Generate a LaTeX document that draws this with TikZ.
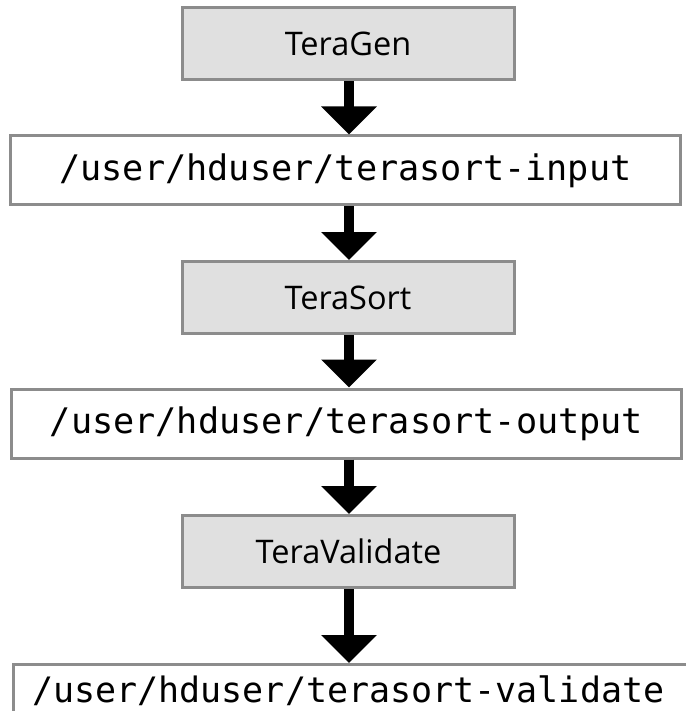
\documentclass[tikz,border=0pt]{standalone}
\usepackage{fontspec}
\setsansfont{Open Sans}
\setmonofont{DejaVu Sans Mono}
\usetikzlibrary{arrows.meta}
\definecolor{boxline}{HTML}{8C8C8C}
\definecolor{boxfill}{HTML}{E0E0E0}
\begin{document}
\begin{tikzpicture}[x=1pt,y=-1pt,
  jobbox/.style={draw=boxline, line width=3pt, fill=boxfill,
    minimum width=332pt, minimum height=72pt, inner sep=0pt,
    font=\sffamily\fontsize{32.5}{38}\selectfont},
  dirbox/.style={draw=boxline, line width=3pt, fill=white,
    minimum width=670pt, minimum height=69pt, inner sep=0pt,
    font=\ttfamily\fontsize{35.2}{42}\selectfont},
  flow/.style={line width=10.5pt, -{Triangle[width=54pt,length=28pt]}}]
\useasboundingbox (0,0) rectangle (685,711);
\fill[white] (0,0) rectangle (685,711);

\node[jobbox] (gen)  at (348,44)      {TeraGen};
\node[dirbox] (in)   at (345.5,170.5) {/user/hduser/terasort-input};
\node[jobbox] (sort) at (348,297.5)   {TeraSort};
\node[dirbox] (out)  at (346.5,423.5) {/user/hduser/terasort-output};
\node[jobbox] (val)  at (348.5,551.5) {TeraValidate};
% last folder box runs past the lower and right edges
\node[dirbox, minimum width=730pt, minimum height=100pt,
      anchor=north west] (vdir) at (12,663) {};
\node[font=\ttfamily\fontsize{35}{42}\selectfont, anchor=west, inner sep=0pt]
  (vtext) at (32,691) {/user/hduser/terasort-validate};

\coordinate (ax) at (349,0);
\draw[flow] (gen.south -| ax)  -- (in.north -| ax);
\draw[flow] (in.south -| ax)   -- (sort.north -| ax);
\draw[flow] (sort.south -| ax) -- (out.north -| ax);
\draw[flow] (out.south -| ax)  -- (val.north -| ax);
\draw[flow] (val.south -| ax)  -- (vdir.north -| ax);
\end{tikzpicture}
\end{document}
